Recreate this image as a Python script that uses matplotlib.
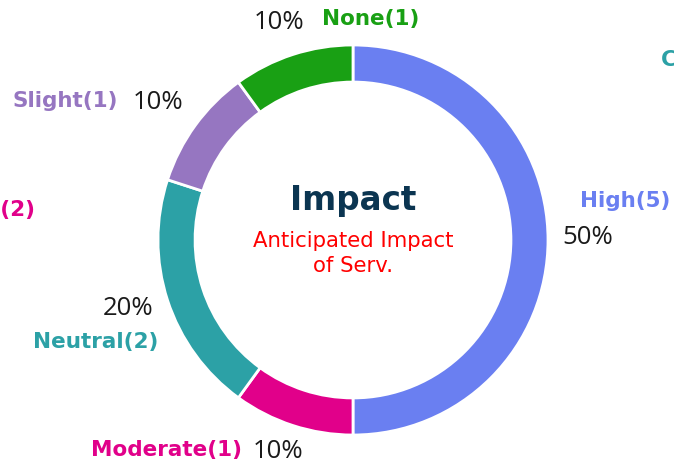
import numpy as np
import matplotlib
matplotlib.use("Agg")
import matplotlib.pyplot as plt

categories = ["High", "Moderate", "Neutral", "Slight", "None"]
counts = [5, 1, 2, 1, 1]
colors = ["#6a7ff1", "#e1008a", "#2ca1a6", "#9676c1", "#19a014"]
title = "Impact"
subtitle = "Anticipated Impact\nof Serv."

# label layout (pixel offsets from wedge outer mid-point): (dx, dy, ha)
label_offsets = [(32, -39, "left"), (-51, 24.5, "right"), (-9.5, 42, "right"), (-77, -24, "right"), (29, -35.5, "left")]
pct_offsets = [(14, -2, "left"), (-40, 26.5, "left"), (-14.5, 8, "right"), (-12, -23, "right"), (12, -32.5, "right")]

W, H = 674, 463
fig = plt.figure(figsize=(W / 100, H / 100), dpi=100)
cx, cy, r = 353, 240, 195
ax = fig.add_axes([(cx - r) / W, 1 - (cy + r) / H, 2 * r / W, 2 * r / H])

wedges, _ = ax.pie(counts, colors=colors, startangle=90, counterclock=False,
                   radius=1.0, wedgeprops=dict(width=0.19, edgecolor="white", linewidth=2))
ax.set_xlim(-1, 1)
ax.set_ylim(-1, 1)
ax.axis("off")

total = sum(counts)
for w, cat, n, col, lo, po in zip(wedges, categories, counts, colors, label_offsets, pct_offsets):
    ang = np.deg2rad((w.theta1 + w.theta2) / 2)
    x, y = np.cos(ang), np.sin(ang)
    ax.annotate(f"{cat}({n})", xy=(x, y), xytext=(lo[0], -lo[1]), textcoords="offset pixels",
                ha=lo[2], va="center", color=col, fontsize=15.5, fontweight="bold",
                family="DejaVu Sans", annotation_clip=False)
    ax.annotate(f"{round(100 * n / total)}%", xy=(x, y), xytext=(po[0], -po[1]), textcoords="offset pixels",
                ha=po[2], va="center", color="#1a1a1a", fontsize=18.5,
                family="Open Sans", annotation_clip=False)

ax.text(0, 0.205, title, ha="center", va="center", fontsize=23.5, fontweight="bold",
        color="#0b3551", family="DejaVu Sans")
ax.text(0, -0.07, subtitle, ha="center", va="center", fontsize=15.3, color="#ff0000",
        family="DejaVu Sans", linespacing=1.3)

# partially visible labels at the canvas edges (cut off in the reference as well)
fig.text(35 / W, 1 - 210 / H, "Moderate(2)", ha="right", va="center", color="#e1008a",
         fontsize=15.5, fontweight="bold", family="DejaVu Sans")
fig.text(661 / W, 1 - 60 / H, "Critical(0)", ha="left", va="center", color="#2ca1a6",
         fontsize=15.5, fontweight="bold", family="DejaVu Sans")

fig.savefig("out.png", dpi=100)
